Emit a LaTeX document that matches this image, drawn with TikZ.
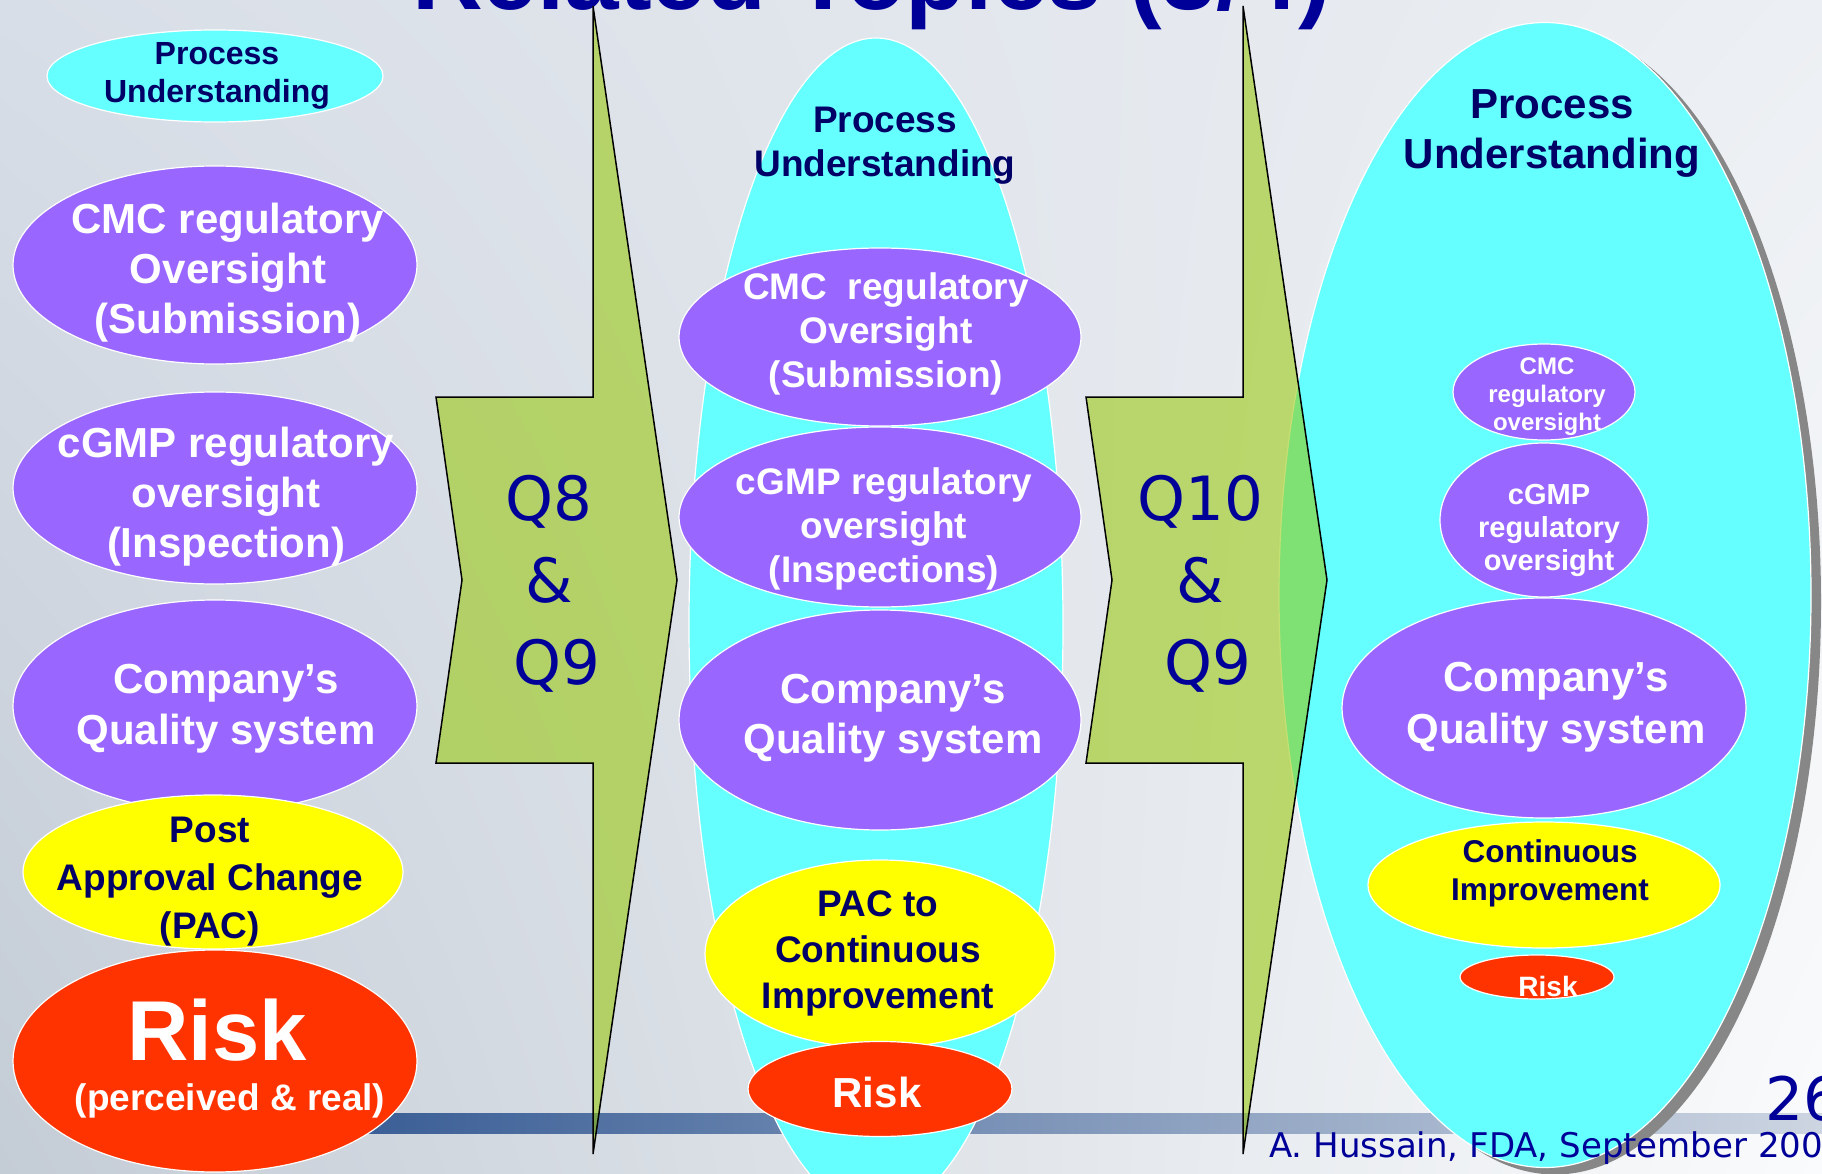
\documentclass[tikz,border=0pt]{standalone}
\usepackage{fontspec}
\setmainfont{Liberation Sans}
\newfontfamily\qfont{DejaVu Sans}
\usepackage{tikz}
\usetikzlibrary{shapes.geometric, shadings}

\definecolor{purp}{RGB}{153,102,255}
\definecolor{aqua}{RGB}{102,255,255}
\definecolor{lemon}{RGB}{255,255,0}
\definecolor{riskred}{RGB}{255,51,0}
\definecolor{navy}{RGB}{0,0,102}
\definecolor{qblue}{RGB}{0,0,153}
\definecolor{arrowgreen}{RGB}{148,199,0}
\definecolor{shadowgray}{RGB}{135,135,135}
\definecolor{bgA}{RGB}{216,222,231}
\definecolor{bgB}{RGB}{236,239,243}
\definecolor{bgC}{RGB}{196,204,214}
\definecolor{bgD}{RGB}{250,251,252}
\definecolor{barA}{RGB}{58,94,150}
\definecolor{barB}{RGB}{130,154,190}
\definecolor{barC}{RGB}{205,213,225}

\newcommand{\sz}[2]{\fontsize{#1}{#2}\selectfont}

\tikzset{
  blob/.style 2 args={ellipse, draw=white, line width=1.2pt, inner sep=0pt, minimum width=#1pt, minimum height=#2pt},
  wtxt/.style={text=white, align=center, inner sep=0pt},
  ntxt/.style={text=navy, align=center, inner sep=0pt},
  qtxt/.style={text=qblue, align=center, inner sep=0pt, font=\qfont\sz{61}{82}},
  qarrow/.style={draw=black, line width=1.5pt, fill=arrowgreen, fill opacity=0.55, line join=miter}
}

\begin{document}
\begin{tikzpicture}[x=1pt, y=-1pt]
  \useasboundingbox (0,0) rectangle (1822,1174);
  \clip (0,0) rectangle (1822,1174);

  % slide background
  \shade[upper left=bgA, upper right=bgB, lower left=bgC, lower right=bgD] (0,0) rectangle (1822,1174);
  \shade[left color=barA, middle color=barB, right color=barC] (360,1113) rectangle (1822,1133);

  % title (cut at the top)
  \node[anchor=base west, text=qblue, font=\bfseries\sz{98}{110}, inner sep=0pt] (title) at (412,10) {Related Topics (3/4)};

  % left column
  \node[blob={336}{92}, fill=aqua] (lpu) at (215,76) {};
  \node[blob={404}{198}, fill=purp] (lcmc) at (215,265) {};
  \node[blob={404}{192}, fill=purp] (lgmp) at (215,488) {};
  \node[blob={404}{212}, fill=purp] (lqs) at (215,706) {};
  \node[blob={380}{154}, fill=lemon] (lpac) at (213,872) {};
  \node[blob={404}{222}, fill=riskred] (lrisk) at (215,1061) {};

  \node[ntxt, font=\bfseries\sz{32}{38}] (lputxt) at (217,76) {Process\\Understanding};
  \node[wtxt, font=\bfseries\sz{42}{50}] (lcmctxt) at (228,273) {CMC regulatory\\Oversight\\(Submission)};
  \node[wtxt, font=\bfseries\sz{42}{50}] (lgmptxt) at (226,497) {cGMP regulatory\\oversight\\(Inspection)};
  \node[wtxt, font=\bfseries\sz{42}{51}] (lqstxt) at (226,709) {Company’s\\Quality system};
  \node[ntxt, font=\bfseries\sz{37}{48}] (lpactxt) at (210,882) {Post\\Approval Change\\(PAC)};
  \node[wtxt, font=\bfseries\sz{85}{90}] (lrisktxt) at (217,1030) {Risk};
  \node[wtxt, font=\bfseries\sz{37}{44}] (lrisksub) at (230,1101) {(perceived \& real)};

  % middle column
  \node[blob={374}{1174}, fill=aqua] (mbig) at (876,625) {};
  \node[blob={402}{178}, fill=purp] (mcmc) at (880,337) {};
  \node[blob={402}{180}, fill=purp] (mgmp) at (880,517) {};
  \node[blob={402}{220}, fill=purp] (mqs) at (880,720) {};
  \node[blob={350}{188}, fill=lemon] (mpac) at (880,954) {};
  \node[blob={264}{95}, fill=riskred] (mrisk) at (880,1089) {};

  \node[ntxt, font=\bfseries\sz{37}{44}] (mputxt) at (885,146) {Process\\Understanding};
  \node[wtxt, font=\bfseries\sz{37}{44}] (mcmctxt) at (886,334) {CMC\ \ regulatory\\Oversight\\(Submission)};
  \node[wtxt, font=\bfseries\sz{37}{44}] (mgmptxt) at (884,529) {cGMP regulatory\\oversight\\(Inspections)};
  \node[wtxt, font=\bfseries\sz{42}{50}] (mqstxt) at (893,718) {Company’s\\Quality system};
  \node[ntxt, font=\bfseries\sz{37}{46}] (mpactxt) at (878,953) {PAC to\\Continuous\\Improvement};
  \node[wtxt, font=\bfseries\sz{42}{50}] (mrisktxt) at (877,1092) {Risk};

  % right column
  \node[blob={532}{1145}, fill=shadowgray, draw=none] (rshadow) at (1555,602) {};
  \node[blob={532}{1145}, fill=aqua] (rbig) at (1545,595) {};
  \node[blob={182}{96}, fill=purp] (rcmc) at (1544,392) {};
  \node[blob={208}{154}, fill=purp] (rgmp) at (1544,520) {};
  \node[blob={404}{220}, fill=purp] (rqs) at (1544,708) {};
  \node[blob={352}{126}, fill=lemon] (rci) at (1544,885) {};
  \node[blob={154}{44}, fill=riskred] (rrisk) at (1537,977) {};

  \node[ntxt, font=\bfseries\sz{42}{50}] (rputxt) at (1552,134) {Process\\Understanding};
  \node[wtxt, font=\bfseries\sz{24}{28}] (rcmctxt) at (1547,397) {CMC\\regulatory\\oversight};
  \node[wtxt, font=\bfseries\sz{29}{33}] (rgmptxt) at (1549,530) {cGMP\\regulatory\\oversight};
  \node[wtxt, font=\bfseries\sz{42}{52}] (rqstxt) at (1556,707) {Company’s\\Quality system};
  \node[ntxt, font=\bfseries\sz{31.5}{38}] (rcitxt) at (1550,873) {Continuous\\Improvement};
  \node[wtxt, font=\bfseries\sz{28}{32}] (rrisktxt) at (1548,986) {Risk};

  % Q8 & Q9 arrow
  \draw[qarrow] (593,6) -- (593,397) -- (436,397) -- (462,580) -- (436,763) -- (593,763) -- (593,1154) -- (677,580) -- cycle;
  \node[qtxt] (qone) at (549,584) {Q8\\\&\\\hspace*{16pt}Q9};

  % Q10 & Q9 arrow
  \draw[qarrow] (1243,6) -- (1243,397) -- (1086,397) -- (1112,580) -- (1086,763) -- (1243,763) -- (1243,1154) -- (1327,580) -- cycle;
  \node[qtxt] (qtwo) at (1200,584) {Q10\\\&\\\hspace*{16pt}Q9};

  % footer
  \node[anchor=base west, text=qblue, font=\qfont\sz{60}{70}, inner sep=0pt] (pagenum) at (1765,1120) {26};
  \node[anchor=base west, text=qblue, font=\qfont\sz{34}{40}, inner sep=0pt] (author) at (1269,1157) {A. Hussain, FDA, September 2005};
\end{tikzpicture}
\end{document}
